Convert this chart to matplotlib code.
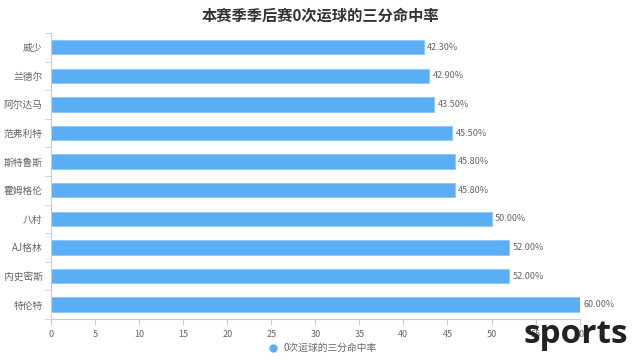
import matplotlib
matplotlib.use("Agg")
import matplotlib.pyplot as plt
from matplotlib.lines import Line2D

plt.rcParams['font.family'] = ['Noto Sans CJK SC', 'DejaVu Sans']

players = ["威少", "兰德尔", "阿尔达马", "范弗利特", "斯特鲁斯", "霍姆格伦", "八村", "AJ格林", "内史密斯", "特伦特"]
pct = [42.3, 42.9, 43.5, 45.5, 45.8, 45.8, 50.0, 52.0, 52.0, 60.0]
xticks = list(range(0, 61, 5))
title = "本赛季季后赛0次运球的三分命中率"
series_name = "0次运球的三分命中率"

bar_color = "#5aaef3"
text_color = "#666666"
axis_color = "#cccccc"

fig = plt.figure(figsize=(6.4, 3.62), dpi=100)
ax = fig.add_axes([0.0797, 0.119, 0.826, 0.79])

y = list(range(len(players)))
ax.barh(y, pct, height=0.5, color=bar_color, edgecolor="#8cc6f7", linewidth=0.6)
for yi, v in zip(y, pct):
    ax.text(v + 0.4, yi, f"{v:.2f}%", va="center", ha="left", fontsize=6.5, color=text_color)

ax.set_ylim(len(players) - 0.5, -0.5)
ax.set_xlim(0, 60)
ax.set_yticks(y)
ax.set_yticklabels(players, fontsize=7, color=text_color)
ax.set_yticks([i - 0.5 for i in range(len(players) + 1)], minor=True)
ax.tick_params(axis="y", which="major", length=0, pad=6)
ax.tick_params(axis="y", which="minor", length=4, color=axis_color)
ax.set_xticks(xticks)
ax.set_xticklabels([str(t) for t in xticks], fontsize=6.5, color=text_color)
ax.tick_params(axis="x", length=4, color=axis_color, pad=4)

for s in ["top", "right"]:
    ax.spines[s].set_visible(False)
for s in ["left", "bottom"]:
    ax.spines[s].set_color(axis_color)

fig.text(0.5, 0.957, title, ha="center", va="center", fontsize=11, fontweight="bold", color="#333333")

handle = Line2D([], [], marker="o", linestyle="none", markersize=5, color=bar_color)
fig.legend([handle], [series_name], loc="center", bbox_to_anchor=(0.5, 0.038), frameon=False,
           fontsize=7, labelcolor=text_color, handletextpad=0.0)

fig.text(0.982, 0.075, "sports", ha="right", va="center", fontsize=24, fontweight="bold",
         color="#222222", family=["Open Sans", "DejaVu Sans"], zorder=10)

fig.savefig("out.png", dpi=100)
